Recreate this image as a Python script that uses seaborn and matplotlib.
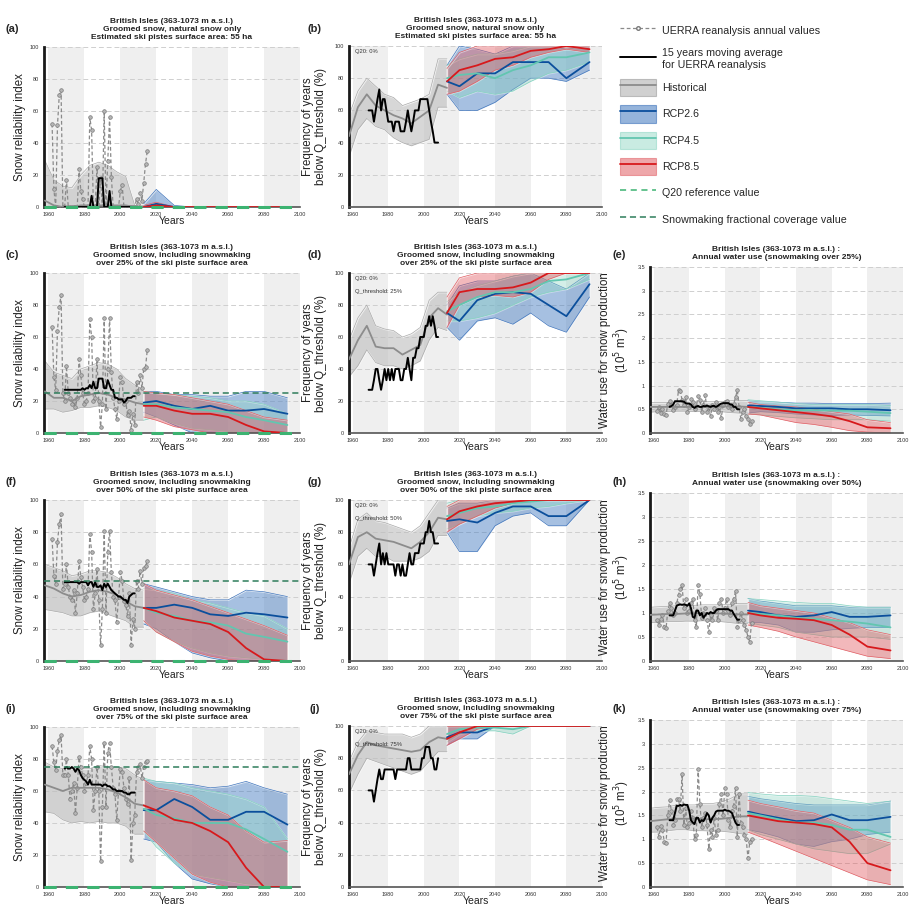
import numpy as np
import matplotlib
matplotlib.use("Agg")
import matplotlib.pyplot as plt
import seaborn as sns
from matplotlib.patches import Patch
from matplotlib.lines import Line2D
from matplotlib.ticker import FormatStrFormatter

sns.set_style("white")
plt.rcParams["font.family"] = ["Liberation Sans", "DejaVu Sans"]

# common time axes
uerra_years = list(range(1962, 2016))
mavg_years = list(range(1969, 2009))
hist_years = [1958, 1963, 1968, 1973, 1978, 1983, 1988, 1993, 1998, 2003, 2008, 2013]
proj_years = [2013, 2020, 2030, 2040, 2050, 2060, 2070, 2080, 2093]

# ---- (a) snow reliability, natural snow
a_uerra = [52, 11, 0, 51, 70, 73, 0, 0, 17, 0, 0, 0, 0, 0, 0, 24, 10, 5, 0, 0, 0, 56, 48, 0, 0, 25, 0, 18,
           0, 60, 0, 29, 56, 19, 0, 0, 0, 0, 10, 14, 0, 0, 0, 0, 0, 0, 0, 5, 2, 9, 4, 15, 27, 35]
a_mavg = [0] * 15 + [7, 0, 0, 0, 18, 18, 18, 0, 0, 0, 10, 0] + [0] * 13
a_hist = [4, 1, 0, 0, 1, 1, 1, 1, 1, 1, 0, 0]
a_hist_lo = [0] * 12
a_hist_hi = [29, 17, 13, 12, 20, 26, 28, 26, 22, 19, 1, 1]
a_rcp26 = [0, 2, 0, 0, 0, 0, 0, 0, 0]
a_rcp26_lo = [0] * 9
a_rcp26_hi = [2, 11, 1, 0, 0, 0, 0, 0, 0]
a_rcp45 = [0] * 9
a_rcp45_lo = [0] * 9
a_rcp45_hi = [1, 1, 0, 0, 0, 0, 0, 0, 0]
a_rcp85 = [0, 1, 0, 0, 0, 0, 0, 0, 0]
a_rcp85_lo = [0] * 9
a_rcp85_hi = [1, 3, 0, 0, 0, 0, 0, 0, 0]

# ---- (b) frequency below threshold, natural snow
b_mavg = [60, 60, 60, 53, 60, 67, 73, 60, 67, 67, 60, 53, 53, 53, 47, 53, 53, 53, 47, 47,
          47, 53, 60, 53, 47, 53, 60, 60, 60, 67, 67, 67, 67, 67, 60, 53, 47, 40, 40, 40]
b_hist = [44, 62, 70, 63, 60, 57, 55, 52, 56, 60, 76, 74]
b_hist_lo = [31, 48, 55, 50, 48, 43, 40, 38, 40, 42, 62, 62]
b_hist_hi = [57, 72, 80, 75, 70, 68, 63, 65, 67, 70, 92, 92]
b_rcp26 = [78, 75, 83, 83, 90, 90, 90, 80, 90]
b_rcp26_lo = [70, 60, 60, 65, 73, 80, 80, 78, 85]
b_rcp26_hi = [88, 100, 98, 95, 100, 100, 100, 98, 100]
b_rcp45 = [80, 82, 83, 80, 85, 88, 93, 93, 96]
b_rcp45_lo = [72, 68, 72, 70, 72, 78, 83, 85, 90]
b_rcp45_hi = [88, 92, 95, 95, 97, 100, 100, 100, 100]
b_rcp85 = [78, 85, 88, 92, 93, 97, 98, 100, 98]
b_rcp85_lo = [70, 72, 78, 85, 88, 93, 96, 98, 96]
b_rcp85_hi = [86, 96, 100, 100, 100, 100, 100, 100, 100]

# ---- (c) snow reliability, snowmaking 25 %
c_uerra = [66, 35, 27, 64, 79, 86, 25, 20, 42, 25, 22, 18, 20, 16, 22, 46, 36, 25, 18, 20, 25, 71, 60, 20,
           22, 46, 20, 4, 18, 72, 15, 40, 72, 38, 22, 15, 9, 20, 35, 32, 18, 20, 11, 14, 2, 12, 5, 32, 25,
           36, 28, 40, 41, 52]
c_mavg = [27, 27, 27, 27, 27, 27, 27, 27, 27, 27, 28, 27, 28, 28, 30, 28, 32, 28, 28, 34,
          34, 34, 28, 28, 33, 30, 27, 27, 22, 22, 21, 21, 21, 19, 20, 22, 22, 22, 23, 23]
c_hist = [26, 22, 22, 20, 23, 24, 25, 24, 22, 21, 19, 18]
c_hist_lo = [15, 15, 13, 14, 16, 16, 17, 16, 14, 10, 8, 8]
c_hist_hi = [45, 38, 36, 34, 40, 42, 44, 43, 40, 34, 30, 27]
c_rcp26 = [19, 20, 17, 15, 17, 14, 14, 15, 12]
c_rcp26_lo = [13, 10, 5, 0, 0, 0, 0, 0, 0]
c_rcp26_hi = [26, 26, 24, 24, 23, 23, 26, 26, 22]
c_rcp45 = [18, 18, 16, 15, 14, 13, 10, 8, 5]
c_rcp45_lo = [8, 10, 6, 3, 2, 1, 0, 0, 0]
c_rcp45_hi = [26, 25, 24, 23, 22, 20, 20, 18, 12]
c_rcp85 = [17, 17, 14, 12, 12, 10, 5, 1, 0]
c_rcp85_lo = [10, 8, 4, 2, 0, 0, 0, 0, 0]
c_rcp85_hi = [26, 25, 24, 22, 20, 18, 14, 10, 8]

# ---- (d) frequency, snowmaking 25 %
d_mavg = [27, 27, 27, 33, 40, 40, 33, 27, 33, 40, 33, 40, 33, 40, 33, 40, 40, 40, 33, 33,
          40, 40, 47, 40, 33, 47, 47, 53, 53, 60, 60, 60, 67, 67, 73, 67, 73, 67, 60, 60]
d_hist = [46, 58, 67, 54, 53, 53, 49, 52, 55, 72, 78, 74]
d_hist_lo = [35, 42, 52, 44, 42, 42, 40, 42, 45, 58, 66, 64]
d_hist_hi = [58, 72, 80, 67, 65, 64, 60, 62, 66, 83, 88, 88]
d_rcp26 = [75, 70, 83, 87, 88, 87, 80, 73, 93]
d_rcp26_lo = [66, 58, 70, 72, 68, 75, 67, 63, 85]
d_rcp26_hi = [80, 92, 95, 95, 98, 100, 95, 90, 100]
d_rcp45 = [76, 80, 85, 88, 88, 90, 95, 96, 100]
d_rcp45_lo = [70, 70, 72, 75, 80, 85, 88, 90, 96]
d_rcp45_hi = [82, 88, 92, 95, 98, 100, 100, 100, 100]
d_rcp85 = [75, 88, 90, 90, 91, 94, 100, 100, 100]
d_rcp85_lo = [66, 80, 85, 86, 85, 88, 96, 100, 100]
d_rcp85_hi = [85, 97, 100, 100, 100, 100, 100, 100, 100]

# ---- (e) water use, snowmaking 25 %
e_uerra = [0.47, 0.55, 0.42, 0.5, 0.4, 0.38, 0.62, 0.68, 0.6, 0.48, 0.55, 0.6, 0.9, 0.88, 0.7, 0.58, 0.75,
           0.45, 0.55, 0.72, 0.65, 0.5, 0.57, 0.77, 0.7, 0.45, 0.6, 0.8, 0.45, 0.55, 0.35, 0.6, 0.5, 0.65,
           0.45, 0.55, 0.32, 0.58, 0.65, 0.68, 0.55, 0.6, 0.5, 0.62, 0.75, 0.9, 0.55, 0.3, 0.45, 0.5,
           0.35, 0.3, 0.2, 0.25]
e_mavg = [0.55, 0.57, 0.6, 0.67, 0.67, 0.67, 0.67, 0.67, 0.66, 0.63, 0.62, 0.62, 0.6, 0.55, 0.53, 0.56,
          0.57, 0.55, 0.55, 0.57, 0.56, 0.58, 0.56, 0.55, 0.57, 0.57, 0.55, 0.57, 0.6, 0.62, 0.63, 0.63,
          0.63, 0.63, 0.6, 0.6, 0.55, 0.55, 0.5, 0.5]
e_hist = [0.55, 0.55, 0.55, 0.55, 0.55, 0.55, 0.55, 0.56, 0.56, 0.56, 0.56, 0.55]
e_hist_lo = [0.44, 0.45, 0.45, 0.46, 0.46, 0.45, 0.46, 0.46, 0.45, 0.43, 0.42, 0.42]
e_hist_hi = [0.64, 0.64, 0.64, 0.65, 0.65, 0.65, 0.66, 0.66, 0.66, 0.68, 0.69, 0.68]
e_rcp26 = [0.58, 0.57, 0.55, 0.52, 0.52, 0.52, 0.5, 0.5, 0.48]
e_rcp26_lo = [0.42, 0.45, 0.43, 0.4, 0.38, 0.37, 0.38, 0.37, 0.36]
e_rcp26_hi = [0.68, 0.66, 0.65, 0.63, 0.63, 0.62, 0.62, 0.62, 0.63]
e_rcp45 = [0.55, 0.53, 0.5, 0.48, 0.48, 0.47, 0.47, 0.45, 0.42]
e_rcp45_lo = [0.4, 0.38, 0.35, 0.32, 0.3, 0.28, 0.28, 0.28, 0.25]
e_rcp45_hi = [0.7, 0.68, 0.65, 0.62, 0.6, 0.6, 0.6, 0.6, 0.58]
e_rcp85 = [0.55, 0.52, 0.48, 0.44, 0.4, 0.35, 0.25, 0.12, 0.1]
e_rcp85_lo = [0.4, 0.38, 0.3, 0.22, 0.18, 0.12, 0.05, 0.02, 0.0]
e_rcp85_hi = [0.65, 0.6, 0.57, 0.55, 0.5, 0.45, 0.4, 0.28, 0.22]

# ---- (f) snow reliability, snowmaking 50 %
f_uerra = [76, 53, 48, 74, 85, 91, 45, 48, 60, 46, 40, 38, 44, 30, 42, 62, 52, 46, 38, 40, 45, 79, 68, 32,
           42, 57, 38, 10, 32, 81, 30, 68, 81, 55, 40, 38, 24, 40, 55, 50, 37, 35, 28, 42, 10, 26, 20, 50,
           45, 56, 48, 58, 59, 62]
f_mavg = [49, 49, 49, 49, 49, 49, 49, 49, 48, 49, 49, 49, 49, 47, 49, 49, 46, 49, 46, 46,
          47, 44, 48, 46, 48, 46, 44, 43, 42, 41, 40, 40, 39, 38, 38, 36, 40, 41, 42, 42]
f_hist = [47, 45, 42, 40, 41, 43, 44, 43, 41, 37, 34, 33]
f_hist_lo = [32, 31, 30, 28, 28, 30, 31, 29, 27, 25, 21, 21]
f_hist_hi = [60, 58, 56, 53, 54, 56, 56, 55, 52, 48, 45, 44]
f_rcp26 = [33, 33, 35, 33, 29, 28, 30, 29, 27]
f_rcp26_lo = [23, 20, 12, 5, 2, 0, 0, 0, 0]
f_rcp26_hi = [48, 46, 43, 40, 38, 38, 44, 43, 40]
f_rcp45 = [33, 30, 28, 25, 24, 22, 17, 15, 12]
f_rcp45_lo = [25, 18, 12, 8, 5, 3, 2, 1, 0]
f_rcp45_hi = [45, 44, 42, 38, 36, 33, 30, 28, 20]
f_rcp85 = [33, 31, 27, 25, 23, 18, 8, 1, 0]
f_rcp85_lo = [25, 18, 12, 6, 3, 1, 0, 0, 0]
f_rcp85_hi = [48, 44, 41, 38, 34, 30, 26, 22, 16]

# ---- (g) frequency, snowmaking 50 %
g_mavg = [60, 60, 60, 53, 60, 67, 73, 60, 67, 60, 67, 60, 60, 60, 60, 53, 60, 60, 53, 60,
          53, 53, 60, 67, 60, 60, 67, 67, 67, 73, 73, 73, 80, 80, 87, 80, 80, 73, 73, 73]
g_hist = [60, 77, 80, 76, 75, 74, 72, 70, 74, 80, 89, 88]
g_hist_lo = [48, 65, 70, 65, 65, 62, 62, 62, 64, 68, 78, 78]
g_hist_hi = [70, 88, 92, 87, 86, 84, 82, 80, 84, 92, 100, 100]
g_rcp26 = [87, 88, 86, 92, 96, 96, 90, 90, 100]
g_rcp26_lo = [80, 68, 68, 84, 90, 92, 84, 84, 100]
g_rcp26_hi = [95, 98, 98, 100, 100, 100, 100, 100, 100]
g_rcp45 = [90, 92, 95, 96, 98, 99, 100, 100, 100]
g_rcp45_lo = [82, 85, 90, 92, 93, 95, 96, 98, 100]
g_rcp45_hi = [98, 100, 100, 100, 100, 100, 100, 100, 100]
g_rcp85 = [88, 93, 96, 98, 99, 100, 100, 100, 100]
g_rcp85_lo = [80, 85, 90, 95, 98, 100, 100, 100, 100]
g_rcp85_hi = [96, 100, 100, 100, 100, 100, 100, 100, 100]

# ---- (h) water use, snowmaking 50 %
h_uerra = [0.85, 0.75, 0.88, 0.95, 0.7, 0.68, 1.05, 1.2, 1.1, 0.95, 1.0, 1.2, 1.38, 1.5, 1.58, 1.1, 1.3,
           1.0, 1.05, 1.2, 1.3, 0.85, 0.7, 1.58, 1.4, 0.9, 1.0, 1.1, 0.85, 0.6, 0.95, 0.85, 1.1, 1.05,
           0.85, 1.2, 1.3, 1.0, 1.1, 1.3, 1.05, 0.95, 1.2, 1.3, 1.45, 0.7, 0.85, 1.0, 0.85, 0.75, 0.65,
           0.5, 0.4, 0.8]
h_mavg = [0.95, 0.95, 0.95, 1.05, 1.15, 1.17, 1.18, 1.17, 1.18, 1.17, 1.15, 1.2, 1.1, 0.92, 0.9, 1.05,
          1.05, 0.95, 1.0, 0.9, 0.95, 1.0, 0.98, 1.02, 1.0, 1.0, 1.05, 1.08, 1.08, 1.08, 1.08, 1.08,
          1.08, 1.08, 1.05, 1.05, 0.98, 0.92, 0.86, 0.86]
h_hist = [0.96, 0.97, 0.98, 0.98, 0.99, 0.99, 1.0, 0.99, 0.99, 0.98, 0.97, 0.97]
h_hist_lo = [0.8, 0.8, 0.82, 0.82, 0.83, 0.83, 0.84, 0.82, 0.82, 0.8, 0.78, 0.78]
h_hist_hi = [1.12, 1.13, 1.14, 1.15, 1.16, 1.16, 1.17, 1.17, 1.17, 1.18, 1.2, 1.2]
h_rcp26 = [1.05, 1.02, 0.95, 0.92, 0.95, 1.02, 0.92, 0.92, 0.95]
h_rcp26_lo = [0.8, 0.8, 0.75, 0.6, 0.6, 0.65, 0.68, 0.7, 0.7]
h_rcp26_hi = [1.3, 1.25, 1.2, 1.15, 1.15, 1.15, 1.12, 1.12, 1.12]
h_rcp45 = [1.0, 0.98, 0.95, 0.9, 0.88, 0.85, 0.82, 0.78, 0.7]
h_rcp45_lo = [0.8, 0.75, 0.7, 0.6, 0.55, 0.5, 0.5, 0.5, 0.45]
h_rcp45_hi = [1.3, 1.28, 1.25, 1.22, 1.2, 1.2, 1.15, 1.12, 1.12]
h_rcp85 = [1.0, 0.95, 0.9, 0.88, 0.85, 0.75, 0.55, 0.3, 0.22]
h_rcp85_lo = [0.75, 0.7, 0.62, 0.5, 0.4, 0.3, 0.2, 0.1, 0.05]
h_rcp85_hi = [1.22, 1.15, 1.1, 1.05, 1.0, 0.9, 0.8, 0.65, 0.55]

# ---- (i) snow reliability, snowmaking 75 %
i_uerra = [88, 78, 73, 85, 92, 95, 70, 70, 80, 70, 55, 60, 65, 46, 62, 81, 75, 70, 60, 65, 70, 88, 80, 48,
           60, 75, 60, 16, 50, 90, 50, 84, 90, 75, 62, 58, 42, 60, 74, 72, 62, 55, 52, 68, 17, 40, 45, 72,
           75, 77, 68, 75, 78, 79]
i_mavg = [74, 75, 74, 74, 75, 74, 72, 74, 73, 70, 68, 67, 66, 64, 67, 64, 64, 64, 64, 64,
          64, 63, 64, 64, 63, 63, 62, 61, 61, 60, 60, 60, 60, 59, 59, 58, 58, 59, 59, 59]
i_hist = [64, 62, 60, 62, 62, 62, 62, 61, 59, 56, 52, 51]
i_hist_lo = [47, 46, 42, 40, 41, 40, 41, 40, 40, 38, 33, 33]
i_hist_hi = [78, 75, 74, 74, 74, 74, 76, 75, 75, 74, 70, 67]
i_rcp26 = [48, 48, 55, 50, 42, 42, 47, 47, 39]
i_rcp26_lo = [30, 28, 15, 5, 2, 0, 0, 0, 0]
i_rcp26_hi = [67, 66, 65, 64, 62, 63, 66, 62, 58]
i_rcp45 = [49, 45, 43, 40, 40, 40, 36, 30, 22]
i_rcp45_lo = [35, 25, 15, 8, 6, 4, 2, 1, 0]
i_rcp45_hi = [68, 66, 65, 62, 60, 58, 55, 50, 30]
i_rcp85 = [51, 48, 42, 40, 35, 28, 12, 0, 0]
i_rcp85_lo = [35, 28, 18, 8, 3, 0, 0, 0, 0]
i_rcp85_hi = [67, 62, 60, 57, 50, 45, 35, 28, 29]

# ---- (j) frequency, snowmaking 75 %
j_mavg = [60, 60, 60, 53, 60, 67, 73, 67, 67, 73, 73, 73, 73, 73, 73, 67, 73, 73, 73, 73,
          73, 73, 80, 80, 73, 73, 73, 73, 73, 73, 80, 80, 87, 87, 87, 80, 80, 73, 73, 80]
j_hist = [70, 82, 90, 88, 87, 86, 85, 84, 85, 90, 93, 92]
j_hist_lo = [58, 70, 80, 78, 76, 74, 72, 70, 72, 78, 84, 84]
j_hist_hi = [78, 90, 97, 96, 95, 95, 95, 93, 95, 100, 100, 100]
j_rcp26 = [93, 96, 96, 100, 100, 100, 100, 100, 100]
j_rcp26_lo = [88, 92, 92, 100, 100, 100, 100, 100, 100]
j_rcp26_hi = [100] * 9
j_rcp45 = [95, 98, 99, 99, 98, 100, 100, 100, 100]
j_rcp45_lo = [90, 95, 97, 97, 95, 100, 100, 100, 100]
j_rcp45_hi = [100] * 9
j_rcp85 = [92, 96, 100, 100, 100, 100, 100, 100, 100]
j_rcp85_lo = [88, 92, 98, 100, 100, 100, 100, 100, 100]
j_rcp85_hi = [100] * 9

# ---- (k) water use, snowmaking 75 %
k_uerra = [1.25, 1.05, 1.28, 1.2, 0.95, 0.92, 1.5, 1.82, 1.6, 1.3, 1.4, 1.85, 1.85, 1.6, 2.37, 1.3, 1.65,
           1.25, 1.35, 1.6, 1.45, 1.0, 1.1, 2.48, 1.75, 1.25, 1.45, 1.55, 1.3, 0.8, 1.2, 1.05, 1.45, 1.1,
           1.2, 1.75, 1.95, 1.5, 2.08, 1.95, 1.4, 1.25, 1.6, 1.7, 2.08, 1.05, 1.95, 1.35, 1.25, 1.1, 1.0,
           0.6, 0.95, 1.0]
k_mavg = [1.4, 1.4, 1.4, 1.55, 1.7, 1.7, 1.72, 1.7, 1.73, 1.72, 1.72, 1.6, 1.4, 1.35, 1.32, 1.45, 1.45,
          1.35, 1.4, 1.38, 1.45, 1.55, 1.5, 1.35, 1.45, 1.5, 1.58, 1.6, 1.6, 1.6, 1.6, 1.62, 1.6, 1.6,
          1.58, 1.55, 1.45, 1.35, 1.3, 1.3]
k_hist = [1.38, 1.4, 1.42, 1.43, 1.43, 1.43, 1.42, 1.42, 1.43, 1.45, 1.48, 1.48]
k_hist_lo = [1.15, 1.15, 1.18, 1.2, 1.2, 1.18, 1.18, 1.17, 1.17, 1.15, 1.12, 1.1]
k_hist_hi = [1.65, 1.67, 1.68, 1.72, 1.72, 1.72, 1.75, 1.75, 1.78, 1.85, 1.95, 1.95]
k_rcp26 = [1.58, 1.52, 1.45, 1.38, 1.4, 1.52, 1.4, 1.4, 1.47]
k_rcp26_lo = [1.2, 1.15, 1.05, 0.9, 0.85, 0.95, 1.0, 1.1, 1.15]
k_rcp26_hi = [1.9, 1.85, 1.8, 1.75, 1.72, 1.72, 1.72, 1.72, 1.8]
k_rcp45 = [1.55, 1.5, 1.42, 1.35, 1.35, 1.3, 1.2, 1.2, 1.05]
k_rcp45_lo = [1.2, 1.1, 1.0, 0.9, 0.8, 0.75, 0.7, 0.7, 0.9]
k_rcp45_hi = [1.98, 1.95, 1.92, 1.92, 1.9, 1.85, 1.8, 1.75, 1.8]
k_rcp85 = [1.5, 1.45, 1.38, 1.35, 1.32, 1.25, 0.95, 0.5, 0.35]
k_rcp85_lo = [1.15, 1.05, 0.9, 0.75, 0.6, 0.45, 0.3, 0.15, 0.05]
k_rcp85_hi = [1.82, 1.75, 1.68, 1.6, 1.55, 1.4, 1.25, 1.05, 0.92]

# colours: (fill, edge, line, alpha)
STY = {
    "hist": ("#bdbdbd", "#a8a8a8", "#8c8c8c", 0.6),
    "rcp26": ("#4f83c4", "#3f74bb", "#0b4f9c", 0.5),
    "rcp45": ("#8fd6c4", "#7fd0bd", "#62c6b0", 0.38),
    "rcp85": ("#e0575d", "#df5a60", "#d7191c", 0.42),
}
Q20_COL = "#3cb371"
COVER_COL = "#2e7d5b"

W, H = 913, 917
fig = plt.figure(figsize=(W / 100, H / 100), dpi=100)

TITLE_SRI = "British Isles (363-1073 m a.s.l.)\nGroomed snow, including snowmaking\nover {}% of the ski piste surface area"
TITLE_NAT = "British Isles (363-1073 m a.s.l.)\nGroomed snow, natural snow only\nEstimated ski pistes surface area: 55 ha"
TITLE_W = "British Isles (363-1073 m a.s.l.) :\nAnnual water use (snowmaking over {}%)"


def make_ax(x0, y0, x1, y1):
    return fig.add_axes([x0 / W, 1 - y1 / H, (x1 - x0) / W, (y1 - y0) / H])


def draw_panel(ax, kind, title, mavg, hist, rcps, uerra=None, cover=None, q=None, xl0=1957.5):
    ymax, step = (3.5, 0.5) if kind == "water" else (100, 20)
    for s in (1960, 2000, 2040, 2080):
        ax.axvspan(s, s + 20, color="#efefef", lw=0, zorder=0)
    for yv in np.arange(step, ymax + 0.001, step):
        ax.axhline(yv, color="#cfcfcf", ls=(0, (5, 3)), lw=0.7, zorder=0.5)

    bands = [(hist_years, hist, "hist")] + [(proj_years, r, k) for r, k in zip(rcps, ("rcp26", "rcp45", "rcp85"))]
    for yrs, (mid, lo, hi), key in bands:
        fc, ec, lc, al = STY[key]
        ax.fill_between(yrs, lo, hi, facecolor=fc, alpha=al, zorder=1)
        ax.plot(yrs, lo, color=ec, lw=0.5, zorder=1)
        ax.plot(yrs, hi, color=ec, lw=0.5, zorder=1)

    if uerra is not None:
        sns.lineplot(x=uerra_years, y=uerra, ax=ax, color="#8a8a8a", ls=(0, (3, 2)), lw=0.9,
                     marker="o", ms=2.6, mfc="#b5b5b5", mec="#7a7a7a", mew=0.5, errorbar=None, zorder=2)

    for yrs, (mid, lo, hi), key in bands:
        sns.lineplot(x=yrs, y=mid, ax=ax, color=STY[key][2], lw=1.3, errorbar=None, zorder=3)
    sns.lineplot(x=mavg_years, y=mavg, ax=ax, color="black", lw=1.4, errorbar=None, zorder=4)

    if kind == "sri":
        ax.axhline(0, color=Q20_COL, ls=(0, (4, 3)), lw=2.2, zorder=5, clip_on=False)
        if cover is not None:
            ax.axhline(cover, color=COVER_COL, ls=(0, (4, 2.5)), lw=1.1, zorder=5)
    if kind == "freq":
        ax.text(1961.5, 98, "Q20: 0%", fontsize=4.2, va="top", color="#333333", zorder=6)
        if q is not None:
            ax.text(1961.5, 90, f"Q_threshold: {q}%", fontsize=4.2, va="top", color="#333333", zorder=6)

    ax.set_xlim(xl0, 2100)
    ax.set_ylim(0, ymax)
    ax.set_xticks(range(1960, 2101, 20))
    ax.set_yticks(np.arange(0, ymax + 0.001, step))
    ax.yaxis.set_major_formatter(FormatStrFormatter("%g"))
    ax.tick_params(labelsize=4, length=2, width=0.6, pad=1.5, colors="#333333")
    for sp in ("top", "right"):
        ax.spines[sp].set_visible(False)
    ax.spines["left"].set_linewidth(2)
    ax.spines["left"].set_color("#1a1a1a")
    ax.spines["bottom"].set_linewidth(1.2)
    ax.spines["bottom"].set_color("#555555")
    ax.set_title(title, fontsize=6, fontweight="bold", pad=6, linespacing=1.2, color="#222222")

    hpx = ax.get_position().height * H
    ax.set_xlabel("Years", fontsize=7.5, color="#222222")
    ax.xaxis.set_label_coords(0.5, -9.5 / hpx)
    if kind == "sri":
        ax.set_ylabel("Snow reliability index", fontsize=8.3, color="#222222")
        ax.yaxis.set_label_coords(-0.072, 0.5)
    elif kind == "freq":
        ax.set_ylabel("Frequency of years\nbelow Q_threshold (%)", fontsize=8.3, color="#222222", linespacing=1.15)
        ax.yaxis.set_label_coords(-0.085, 0.5)
    else:
        ax.set_ylabel("Water use for snow production\n(10$^5$ m$^3$)", fontsize=8.3, color="#222222", linespacing=1.15)
        ax.yaxis.set_label_coords(-0.07, 0.5)


col1, col2, col3 = (44, 300), (349, 602), (650, 903)

ax = make_ax(col1[0], 47, col1[1], 207)
draw_panel(ax, "sri", TITLE_NAT, a_mavg, (a_hist, a_hist_lo, a_hist_hi),
           [(a_rcp26, a_rcp26_lo, a_rcp26_hi), (a_rcp45, a_rcp45_lo, a_rcp45_hi), (a_rcp85, a_rcp85_lo, a_rcp85_hi)],
           uerra=a_uerra)
ax = make_ax(col2[0], 46, col2[1], 207)
draw_panel(ax, "freq", TITLE_NAT, b_mavg, (b_hist, b_hist_lo, b_hist_hi),
           [(b_rcp26, b_rcp26_lo, b_rcp26_hi), (b_rcp45, b_rcp45_lo, b_rcp45_hi), (b_rcp85, b_rcp85_lo, b_rcp85_hi)],
           xl0=1958)

ax = make_ax(col1[0], 273, col1[1], 433)
draw_panel(ax, "sri", TITLE_SRI.format(25), c_mavg, (c_hist, c_hist_lo, c_hist_hi),
           [(c_rcp26, c_rcp26_lo, c_rcp26_hi), (c_rcp45, c_rcp45_lo, c_rcp45_hi), (c_rcp85, c_rcp85_lo, c_rcp85_hi)],
           uerra=c_uerra, cover=25)
ax = make_ax(col2[0], 273, col2[1], 433)
draw_panel(ax, "freq", TITLE_SRI.format(25), d_mavg, (d_hist, d_hist_lo, d_hist_hi),
           [(d_rcp26, d_rcp26_lo, d_rcp26_hi), (d_rcp45, d_rcp45_lo, d_rcp45_hi), (d_rcp85, d_rcp85_lo, d_rcp85_hi)],
           q=25, xl0=1958)
ax = make_ax(col3[0], 267, col3[1], 433)
draw_panel(ax, "water", TITLE_W.format(25), e_mavg, (e_hist, e_hist_lo, e_hist_hi),
           [(e_rcp26, e_rcp26_lo, e_rcp26_hi), (e_rcp45, e_rcp45_lo, e_rcp45_hi), (e_rcp85, e_rcp85_lo, e_rcp85_hi)],
           uerra=e_uerra, xl0=1958)

ax = make_ax(col1[0], 500, col1[1], 661)
draw_panel(ax, "sri", TITLE_SRI.format(50), f_mavg, (f_hist, f_hist_lo, f_hist_hi),
           [(f_rcp26, f_rcp26_lo, f_rcp26_hi), (f_rcp45, f_rcp45_lo, f_rcp45_hi), (f_rcp85, f_rcp85_lo, f_rcp85_hi)],
           uerra=f_uerra, cover=50)
ax = make_ax(col2[0], 500, col2[1], 661)
draw_panel(ax, "freq", TITLE_SRI.format(50), g_mavg, (g_hist, g_hist_lo, g_hist_hi),
           [(g_rcp26, g_rcp26_lo, g_rcp26_hi), (g_rcp45, g_rcp45_lo, g_rcp45_hi), (g_rcp85, g_rcp85_lo, g_rcp85_hi)],
           q=50, xl0=1958)
ax = make_ax(col3[0], 493, col3[1], 661)
draw_panel(ax, "water", TITLE_W.format(50), h_mavg, (h_hist, h_hist_lo, h_hist_hi),
           [(h_rcp26, h_rcp26_lo, h_rcp26_hi), (h_rcp45, h_rcp45_lo, h_rcp45_hi), (h_rcp85, h_rcp85_lo, h_rcp85_hi)],
           uerra=h_uerra, xl0=1958)

ax = make_ax(col1[0], 727, col1[1], 887)
draw_panel(ax, "sri", TITLE_SRI.format(75), i_mavg, (i_hist, i_hist_lo, i_hist_hi),
           [(i_rcp26, i_rcp26_lo, i_rcp26_hi), (i_rcp45, i_rcp45_lo, i_rcp45_hi), (i_rcp85, i_rcp85_lo, i_rcp85_hi)],
           uerra=i_uerra, cover=75)
ax = make_ax(col2[0], 726, col2[1], 887)
draw_panel(ax, "freq", TITLE_SRI.format(75), j_mavg, (j_hist, j_hist_lo, j_hist_hi),
           [(j_rcp26, j_rcp26_lo, j_rcp26_hi), (j_rcp45, j_rcp45_lo, j_rcp45_hi), (j_rcp85, j_rcp85_lo, j_rcp85_hi)],
           q=75, xl0=1958)
ax = make_ax(col3[0], 720, col3[1], 887)
draw_panel(ax, "water", TITLE_W.format(75), k_mavg, (k_hist, k_hist_lo, k_hist_hi),
           [(k_rcp26, k_rcp26_lo, k_rcp26_hi), (k_rcp45, k_rcp45_lo, k_rcp45_hi), (k_rcp85, k_rcp85_lo, k_rcp85_hi)],
           uerra=k_uerra, xl0=1958)

# panel letters
letters = [("(a)", 5, 29), ("(b)", 308, 29), ("(c)", 5, 255), ("(d)", 308, 255), ("(e)", 612, 255),
           ("(f)", 5, 482), ("(g)", 308, 482), ("(h)", 612, 482), ("(i)", 5, 709), ("(j)", 310, 709),
           ("(k)", 612, 709)]
for txt, px, py in letters:
    fig.text(px / W, 1 - py / H, txt, fontsize=8, fontweight="bold", va="center", ha="left")

# legend
def band_handle(key):
    fc, ec, lc, al = STY[key]
    return (Patch(facecolor=fc, edgecolor=ec, alpha=al + 0.1, lw=0.8), Line2D([], [], color=lc, lw=1.3))

handles = [
    Line2D([], [], color="#8a8a8a", ls=(0, (3, 2)), lw=0.9, marker="o", ms=2.6, mfc="white", mec="#7a7a7a"),
    Line2D([], [], color="black", lw=1.4),
    band_handle("hist"), band_handle("rcp26"), band_handle("rcp45"), band_handle("rcp85"),
    Line2D([], [], color=Q20_COL, ls=(0, (4, 3)), lw=1.1),
    Line2D([], [], color=COVER_COL, ls=(0, (4, 2.5)), lw=1.1),
]
labels = ["UERRA reanalysis annual values", "15 years moving average\nfor UERRA reanalysis", "Historical",
          "RCP2.6", "RCP4.5", "RCP8.5", "Q20 reference value", "Snowmaking fractional coverage value"]
fig.legend(handles, labels, loc="upper left", bbox_to_anchor=(620 / W, 1 - 22 / H), frameon=False,
           fontsize=7.7, handlelength=3.35, handleheight=2.1, handletextpad=0.6, labelspacing=0.85,
           borderpad=0, borderaxespad=0)

fig.savefig("out.png", dpi=100)
